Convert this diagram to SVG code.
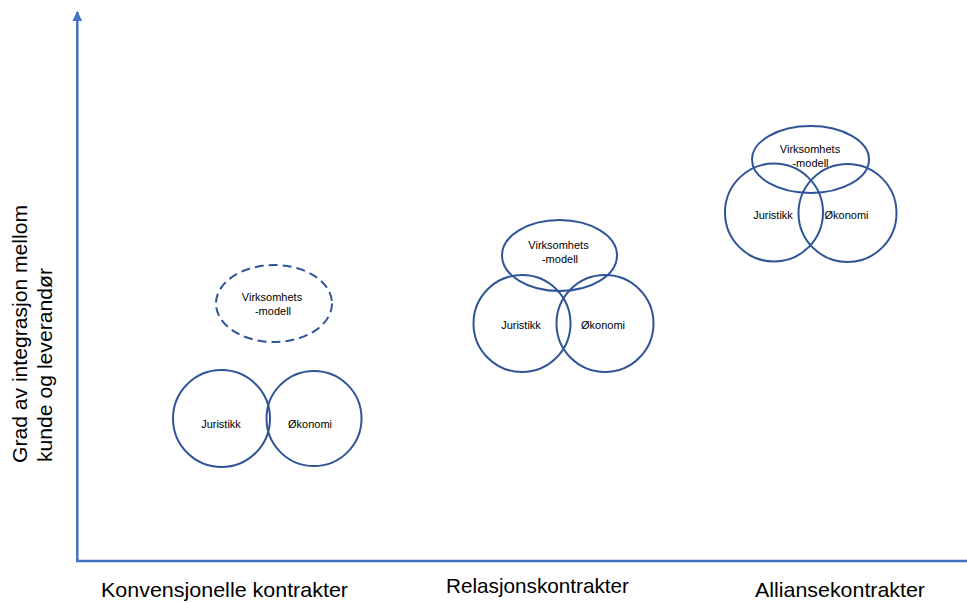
<svg xmlns="http://www.w3.org/2000/svg" width="967" height="603" viewBox="0 0 967 603">
  <style>
    .shape { fill: none; stroke: #2F5597; stroke-width: 2; }
    .dashed { stroke-dasharray: 9 5; }
    .lbl { font-family: "Liberation Sans", Arial, sans-serif; font-size: 11px; fill: #000; text-anchor: middle; }
    .big { font-family: "Liberation Sans", Arial, sans-serif; font-size: 21px; fill: #000; }
    .axis { stroke: #4472C4; stroke-width: 2.5; fill: none; }
  </style>
  <defs>
    <marker id="arrow" viewBox="0 0 10 10" refX="9" refY="5" markerWidth="10" markerHeight="10" markerUnits="userSpaceOnUse" orient="auto">
      <path d="M0,0 L10,5 L0,10 z" fill="#4472C4"/>
    </marker>
  </defs>
  <rect width="967" height="603" fill="#fff"/>

  <g id="connectors">
    <line class="axis" x1="77.3" y1="561" x2="77.3" y2="12" marker-end="url(#arrow)"/>
    <line class="axis" x1="76" y1="561" x2="967" y2="561"/>
  </g>

  <g id="kv-virksomhet">
    <ellipse class="shape dashed" cx="274" cy="303.5" rx="58" ry="38.5"/>
    <text class="lbl" x="272" y="301">Virksomhets</text>
    <text class="lbl" x="273" y="315">-modell</text>
  </g>
  <g id="kv-juristikk">
    <circle class="shape" cx="221.5" cy="418.5" r="48.5"/>
    <text class="lbl" x="221" y="427.5">Juristikk</text>
  </g>
  <g id="kv-okonomi">
    <circle class="shape" cx="314" cy="418.5" r="47.5"/>
    <text class="lbl" x="310" y="427.5">Økonomi</text>
  </g>

  <g id="rel-virksomhet">
    <ellipse class="shape" cx="559.5" cy="255.5" rx="57.5" ry="35.5"/>
    <text class="lbl" x="558.5" y="249">Virksomhets</text>
    <text class="lbl" x="560" y="263.3">-modell</text>
  </g>
  <g id="rel-juristikk">
    <circle class="shape" cx="522" cy="323.5" r="48.5"/>
    <text class="lbl" x="521" y="329">Juristikk</text>
  </g>
  <g id="rel-okonomi">
    <circle class="shape" cx="605" cy="323.5" r="48.5"/>
    <text class="lbl" x="603" y="329">Økonomi</text>
  </g>

  <g id="al-virksomhet">
    <ellipse class="shape" cx="810.5" cy="159.5" rx="58.5" ry="33.5"/>
    <text class="lbl" x="810" y="153.3">Virksomhets</text>
    <text class="lbl" x="810.5" y="167.3">-modell</text>
  </g>
  <g id="al-juristikk">
    <circle class="shape" cx="774" cy="212.5" r="49"/>
    <text class="lbl" x="773" y="219.3">Juristikk</text>
  </g>
  <g id="al-okonomi">
    <circle class="shape" cx="847.5" cy="213" r="49"/>
    <text class="lbl" x="846.5" y="219.3">Økonomi</text>
  </g>

  <g id="labels">
    <text class="big" x="101" y="597" textLength="247" lengthAdjust="spacingAndGlyphs">Konvensjonelle kontrakter</text>
    <text class="big" x="446" y="592.5" textLength="183" lengthAdjust="spacingAndGlyphs">Relasjonskontrakter</text>
    <text class="big" x="755" y="597" textLength="170" lengthAdjust="spacingAndGlyphs">Alliansekontrakter</text>
    <text class="big" transform="translate(27,463) rotate(-90)" x="0" y="0" textLength="258" lengthAdjust="spacingAndGlyphs">Grad av integrasjon mellom</text>
    <text class="big" transform="translate(52,462) rotate(-90)" x="0" y="0" textLength="194" lengthAdjust="spacingAndGlyphs">kunde og leverandør</text>
  </g>
</svg>
